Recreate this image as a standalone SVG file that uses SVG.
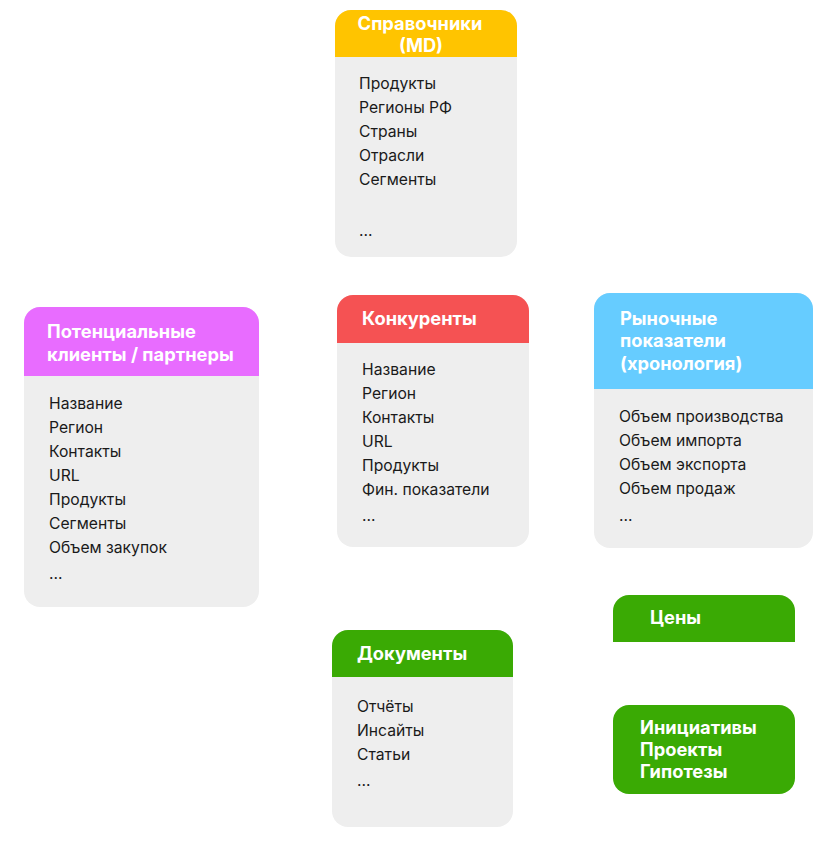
<svg xmlns="http://www.w3.org/2000/svg" width="824" height="841" viewBox="0 0 824 841">
<style>
.body{fill:#EEEEEE}
.ttl{font-family:Inter,"Noto Sans",sans-serif;font-weight:700;font-size:18.3px;fill:#FFFFFF}
.itm{font-family:Inter,"Noto Sans",sans-serif;font-size:15.7px;fill:#1A1A1A}
</style>
<rect width="824" height="841" fill="#FFFFFF"/>
<g id="connectors"/>
<g id="spravochniki">
<rect class="body" x="335" y="10" width="182" height="247" rx="16"/>
<path d="M335 57 V26 A16 16 0 0 1 351 10 H501 A16 16 0 0 1 517 26 V57 Z" fill="#FFC400"/>
<text class="ttl" x="420" y="30" text-anchor="middle">Справочники</text>
<text class="ttl" x="421" y="52" text-anchor="middle">(MD)</text>
<text class="itm" x="359" y="89">Продукты</text>
<text class="itm" x="359" y="113">Регионы РФ</text>
<text class="itm" x="359" y="137">Страны</text>
<text class="itm" x="359" y="161">Отрасли</text>
<text class="itm" x="359" y="185">Сегменты</text>
<text class="itm" x="359" y="236">...</text>
</g>
<g id="clients">
<rect class="body" x="24" y="307" width="235" height="300" rx="16"/>
<path d="M24 376 V323 A16 16 0 0 1 40 307 H243 A16 16 0 0 1 259 323 V376 Z" fill="#E86CFF"/>
<text class="ttl" x="47" y="338">Потенциальные</text>
<text class="ttl" x="47" y="361">клиенты / партнеры</text>
<text class="itm" x="49" y="409">Название</text>
<text class="itm" x="49" y="433">Регион</text>
<text class="itm" x="49" y="457">Контакты</text>
<text class="itm" x="49" y="481">URL</text>
<text class="itm" x="49" y="505">Продукты</text>
<text class="itm" x="49" y="529">Сегменты</text>
<text class="itm" x="49" y="553">Объем закупок</text>
<text class="itm" x="49" y="579">...</text>
</g>
<g id="competitors">
<rect class="body" x="337" y="295" width="192" height="252" rx="16"/>
<path d="M337 343 V311 A16 16 0 0 1 353 295 H513 A16 16 0 0 1 529 311 V343 Z" fill="#F55253"/>
<text class="ttl" x="362" y="325">Конкуренты</text>
<text class="itm" x="362" y="375">Название</text>
<text class="itm" x="362" y="399">Регион</text>
<text class="itm" x="362" y="423">Контакты</text>
<text class="itm" x="362" y="447">URL</text>
<text class="itm" x="362" y="471">Продукты</text>
<text class="itm" x="362" y="495">Фин. показатели</text>
<text class="itm" x="362" y="521">...</text>
</g>
<g id="market">
<rect class="body" x="594" y="293" width="219" height="255" rx="16"/>
<path d="M594 389 V309 A16 16 0 0 1 610 293 H797 A16 16 0 0 1 813 309 V389 Z" fill="#66CCFF"/>
<text class="ttl" x="620" y="325">Рыночные</text>
<text class="ttl" x="620" y="347">показатели</text>
<text class="ttl" x="620" y="370">(хронология)</text>
<text class="itm" x="619" y="422">Объем производства</text>
<text class="itm" x="619" y="446">Объем импорта</text>
<text class="itm" x="619" y="470">Объем экспорта</text>
<text class="itm" x="619" y="494">Объем продаж</text>
<text class="itm" x="619" y="521">...</text>
</g>
<g id="documents">
<rect class="body" x="332" y="630" width="181" height="197" rx="16"/>
<path d="M332 677 V646 A16 16 0 0 1 348 630 H497 A16 16 0 0 1 513 646 V677 Z" fill="#3AAA04"/>
<text class="ttl" x="357" y="660">Документы</text>
<text class="itm" x="357" y="712">Отчёты</text>
<text class="itm" x="357" y="736">Инсайты</text>
<text class="itm" x="357" y="760">Статьи</text>
<text class="itm" x="357" y="786">...</text>
</g>
<g id="prices">
<path d="M613 642 V611 A16 16 0 0 1 629 595 H779 A16 16 0 0 1 795 611 V642 Z" fill="#3AAA04"/>
<text class="ttl" x="650" y="624">Цены</text>
</g>
<g id="initiatives">
<rect x="613" y="705" width="182" height="89" rx="16" fill="#3AAA04"/>
<text class="ttl" x="640" y="734">Инициативы</text>
<text class="ttl" x="640" y="756">Проекты</text>
<text class="ttl" x="640" y="778">Гипотезы</text>
</g>
</svg>
